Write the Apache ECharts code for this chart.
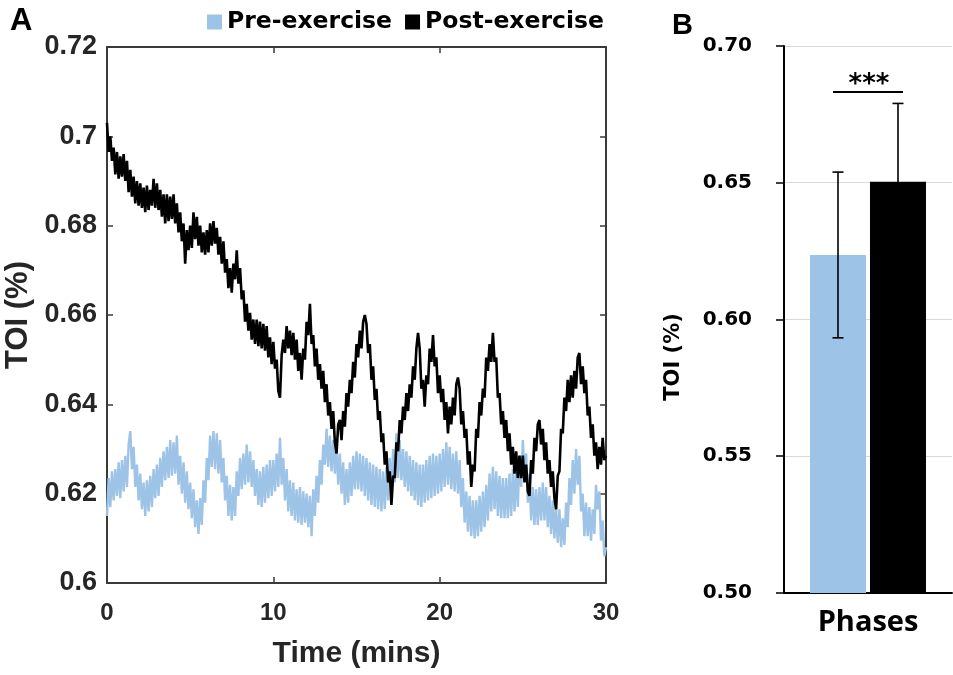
<!DOCTYPE html>
<html>
<head>
<meta charset="utf-8">
<title>TOI pre/post exercise</title>
<script src="https://cdn.jsdelivr.net/npm/echarts@6/dist/echarts.min.js"></script>
<style>
  html, body { margin: 0; padding: 0; background: #fff; }
  #chart { width: 953px; height: 675px; }
</style>
</head>
<body>
<div id="chart"></div>
<script>
// ---- Panel A: TOI traces, one sample every 0.1 min over 30 min ----
const sampleStepMin = 0.1;
const timeTicks = [0, 10, 20, 30];
const toiTicks = [0.6, 0.62, 0.64, 0.66, 0.68, 0.7, 0.72];

const preExercise = [
  0.6150, 0.6235, 0.6170, 0.6250, 0.6185, 0.6255, 0.6195, 0.6270, 0.6190, 0.6275,
  0.6205, 0.6285, 0.6215, 0.6310, 0.6340, 0.6255, 0.6305, 0.6215, 0.6265, 0.6185,
  0.6245, 0.6165, 0.6225, 0.6150, 0.6230, 0.6160, 0.6240, 0.6170, 0.6255, 0.6190,
  0.6265, 0.6195, 0.6280, 0.6215, 0.6295, 0.6230, 0.6305, 0.6235, 0.6320, 0.6240,
  0.6315, 0.6245, 0.6330, 0.6220, 0.6285, 0.6200, 0.6270, 0.6180, 0.6250, 0.6165,
  0.6225, 0.6145, 0.6210, 0.6125, 0.6185, 0.6110, 0.6190, 0.6130, 0.6230, 0.6180,
  0.6280, 0.6230, 0.6330, 0.6260, 0.6340, 0.6255, 0.6335, 0.6245, 0.6320, 0.6225,
  0.6280, 0.6185, 0.6240, 0.6150, 0.6220, 0.6140, 0.6215, 0.6150, 0.6250, 0.6195,
  0.6280, 0.6210, 0.6290, 0.6220, 0.6310, 0.6225, 0.6295, 0.6215, 0.6275, 0.6195,
  0.6255, 0.6175, 0.6250, 0.6170, 0.6260, 0.6180, 0.6265, 0.6190, 0.6275, 0.6195,
  0.6275, 0.6205, 0.6290, 0.6215, 0.6325, 0.6220, 0.6280, 0.6185, 0.6255, 0.6160,
  0.6230, 0.6150, 0.6225, 0.6140, 0.6210, 0.6135, 0.6215, 0.6130, 0.6205, 0.6135,
  0.6200, 0.6125, 0.6195, 0.6105, 0.6210, 0.6150, 0.6240, 0.6180, 0.6275, 0.6220,
  0.6310, 0.6265, 0.6345, 0.6260, 0.6330, 0.6250, 0.6320, 0.6245, 0.6310, 0.6220,
  0.6290, 0.6200, 0.6270, 0.6175, 0.6255, 0.6180, 0.6270, 0.6195, 0.6285, 0.6210,
  0.6295, 0.6210, 0.6290, 0.6205, 0.6285, 0.6195, 0.6280, 0.6185, 0.6270, 0.6175,
  0.6265, 0.6170, 0.6260, 0.6165, 0.6255, 0.6160, 0.6250, 0.6165, 0.6260, 0.6185,
  0.6280, 0.6205, 0.6300, 0.6225, 0.6335, 0.6235, 0.6320, 0.6230, 0.6300, 0.6215,
  0.6295, 0.6205, 0.6285, 0.6195, 0.6275, 0.6185, 0.6270, 0.6175, 0.6265, 0.6170,
  0.6265, 0.6180, 0.6275, 0.6185, 0.6285, 0.6190, 0.6290, 0.6195, 0.6285, 0.6200,
  0.6290, 0.6205, 0.6300, 0.6215, 0.6315, 0.6220, 0.6305, 0.6210, 0.6290, 0.6205,
  0.6295, 0.6200, 0.6275, 0.6170, 0.6235, 0.6135, 0.6205, 0.6115, 0.6195, 0.6105,
  0.6185, 0.6100, 0.6185, 0.6105, 0.6195, 0.6115, 0.6205, 0.6125, 0.6220, 0.6140,
  0.6245, 0.6160, 0.6260, 0.6165, 0.6250, 0.6150, 0.6240, 0.6145, 0.6235, 0.6145,
  0.6235, 0.6145, 0.6245, 0.6150, 0.6255, 0.6160, 0.6255, 0.6170, 0.6285, 0.6215,
  0.6320, 0.6240, 0.6290, 0.6180, 0.6245, 0.6140, 0.6215, 0.6130, 0.6210, 0.6130,
  0.6215, 0.6140, 0.6225, 0.6140, 0.6215, 0.6125, 0.6195, 0.6110, 0.6185, 0.6100,
  0.6170, 0.6090, 0.6165, 0.6080, 0.6145, 0.6085, 0.6180, 0.6125, 0.6235, 0.6175,
  0.6275, 0.6200, 0.6300, 0.6220, 0.6285, 0.6160, 0.6200, 0.6105, 0.6180, 0.6105,
  0.6170, 0.6095, 0.6165, 0.6110, 0.6220, 0.6165, 0.6205, 0.6095, 0.6140, 0.6060,
  0.6080
];

const postExercise = [
  0.7030, 0.6965, 0.7000, 0.6945, 0.6975, 0.6915, 0.6965, 0.6905, 0.6955, 0.6910,
  0.6960, 0.6900, 0.6945, 0.6875, 0.6925, 0.6865, 0.6910, 0.6850, 0.6900, 0.6845,
  0.6895, 0.6840, 0.6885, 0.6830, 0.6890, 0.6835, 0.6880, 0.6845, 0.6905, 0.6840,
  0.6895, 0.6835, 0.6880, 0.6820, 0.6870, 0.6805, 0.6870, 0.6810, 0.6865, 0.6815,
  0.6870, 0.6805, 0.6850, 0.6785, 0.6830, 0.6765, 0.6805, 0.6715, 0.6790, 0.6745,
  0.6800, 0.6750, 0.6830, 0.6770, 0.6820, 0.6755, 0.6800, 0.6740, 0.6785, 0.6735,
  0.6790, 0.6740, 0.6805, 0.6755, 0.6810, 0.6760, 0.6795, 0.6735, 0.6775, 0.6715,
  0.6765, 0.6695, 0.6725, 0.6660, 0.6705, 0.6650, 0.6715, 0.6680, 0.6745, 0.6670,
  0.6705, 0.6635, 0.6655, 0.6585, 0.6625, 0.6565, 0.6605, 0.6545, 0.6590, 0.6535,
  0.6590, 0.6530, 0.6585, 0.6525, 0.6580, 0.6520, 0.6575, 0.6505, 0.6550, 0.6490,
  0.6540, 0.6480, 0.6500, 0.6430, 0.6415, 0.6510, 0.6545, 0.6515, 0.6575, 0.6525,
  0.6565, 0.6510, 0.6560, 0.6500, 0.6545, 0.6475, 0.6515, 0.6455, 0.6525, 0.6500,
  0.6585, 0.6555, 0.6625, 0.6535, 0.6555, 0.6485, 0.6525, 0.6455, 0.6490, 0.6435,
  0.6475, 0.6405, 0.6445, 0.6375, 0.6405, 0.6345, 0.6385, 0.6315, 0.6290, 0.6355,
  0.6365, 0.6320, 0.6385, 0.6350, 0.6425, 0.6395, 0.6455, 0.6425, 0.6495, 0.6460,
  0.6535, 0.6505, 0.6565, 0.6525, 0.6585, 0.6600, 0.6580, 0.6515, 0.6535, 0.6455,
  0.6485, 0.6410, 0.6435, 0.6365, 0.6385, 0.6315, 0.6335, 0.6265, 0.6295, 0.6225,
  0.6250, 0.6175, 0.6240, 0.6235, 0.6315, 0.6295, 0.6365, 0.6335, 0.6395, 0.6365,
  0.6425, 0.6385, 0.6445, 0.6415, 0.6485, 0.6455, 0.6525, 0.6560, 0.6525, 0.6435,
  0.6455, 0.6395, 0.6465, 0.6445, 0.6525, 0.6495, 0.6555, 0.6485, 0.6505, 0.6425,
  0.6465, 0.6405, 0.6435, 0.6365, 0.6405, 0.6335, 0.6395, 0.6355, 0.6415, 0.6375,
  0.6445, 0.6460, 0.6435, 0.6355, 0.6385, 0.6325, 0.6345, 0.6265, 0.6295, 0.6215,
  0.6265, 0.6250, 0.6345, 0.6325, 0.6405, 0.6375, 0.6435, 0.6415, 0.6505, 0.6475,
  0.6535, 0.6495, 0.6560, 0.6495, 0.6505, 0.6415, 0.6425, 0.6355, 0.6385, 0.6325,
  0.6365, 0.6295, 0.6335, 0.6265, 0.6305, 0.6245, 0.6295, 0.6235, 0.6285, 0.6235,
  0.6285, 0.6225, 0.6265, 0.6205, 0.6195, 0.6275, 0.6245, 0.6325, 0.6295, 0.6355,
  0.6365, 0.6310, 0.6345, 0.6275, 0.6315, 0.6245, 0.6275, 0.6215, 0.6250, 0.6190,
  0.6165, 0.6240, 0.6250, 0.6345, 0.6335, 0.6415, 0.6385, 0.6455, 0.6405, 0.6465,
  0.6415, 0.6475, 0.6435, 0.6505, 0.6515, 0.6445, 0.6485, 0.6425, 0.6455, 0.6375,
  0.6395, 0.6325, 0.6355, 0.6285, 0.6315, 0.6255, 0.6305, 0.6265, 0.6325, 0.6275,
  0.6285
];

// ---- Panel B: mean TOI per phase with error bars ----
const phaseCategories = ['Phases'];
const phaseNames = ['Pre-exercise', 'Post-exercise'];
const phaseMeans = [0.6236, 0.6504];
const phaseErrors = [0.0303, 0.0286];
const barTicks = [0.5, 0.55, 0.6, 0.65, 0.7];
const significanceLabel = '***';
const significanceLevel = 0.6832;

// ---- styling ----
const BLUE = '#9DC3E6';
const BLACK = '#000000';
const FRAME = '#3a3a3a';
const LABEL_A = '#262626';
const BAR_WIDTH = 56;
const BAR_GAP_PX = 4;
const barOffsets = [-(BAR_WIDTH + BAR_GAP_PX) / 2, (BAR_WIDTH + BAR_GAP_PX) / 2];

const toPairs = arr => arr.map((v, i) => [+(i * sampleStepMin).toFixed(1), v]);

const fontA = 'Liberation Sans, Arial, sans-serif';
const fontB = 'DejaVu Sans, Liberation Sans, sans-serif';

const frameAxisA = (extra) => Object.assign({
  gridIndex: 0,
  axisLine: { show: true, onZero: false, lineStyle: { color: FRAME, width: 2 } },
  axisTick: { show: true, inside: true, length: 6, lineStyle: { color: FRAME, width: 1.5 } },
  splitLine: { show: false }
}, extra);

const chart = echarts.init(document.getElementById('chart'), null, { renderer: 'canvas' });

chart.setOption({
  animation: false,
  backgroundColor: '#ffffff',
  title: [
    { text: 'A', left: 5, top: 1, textStyle: { fontFamily: fontA, fontWeight: 'bold', fontSize: 31, color: BLACK } },
    { text: 'B', left: 667, top: 6, textStyle: { fontFamily: fontA, fontWeight: 'bold', fontSize: 29, color: BLACK } }
  ],
  legend: {
    data: phaseNames,
    left: 207,
    top: 10,
    padding: 0,
    icon: 'rect',
    itemWidth: 15,
    itemHeight: 15,
    itemGap: 13,
    selectedMode: false,
    textStyle: { fontFamily: fontB, fontWeight: 'bold', fontSize: 23.5, color: BLACK }
  },
  grid: [
    { left: 107, top: 47, width: 499, height: 536, outerBoundsMode: 'none', containLabel: false },
    { left: 784, top: 46, width: 168, height: 547, outerBoundsMode: 'none', containLabel: false }
  ],
  xAxis: [
    frameAxisA({
      type: 'value', position: 'bottom', min: timeTicks[0], max: timeTicks[timeTicks.length - 1],
      interval: timeTicks[1] - timeTicks[0],
      name: 'Time (mins)', nameLocation: 'middle', nameGap: 56,
      nameTextStyle: { fontFamily: fontA, fontWeight: 'bold', fontSize: 30, color: LABEL_A },
      axisLabel: { margin: 18, fontFamily: fontA, fontWeight: 'bold', fontSize: 24, color: LABEL_A }
    }),
    frameAxisA({
      type: 'value', position: 'top', min: timeTicks[0], max: timeTicks[timeTicks.length - 1],
      interval: timeTicks[1] - timeTicks[0], axisLabel: { show: false }
    }),
    {
      gridIndex: 1, type: 'category', data: phaseCategories,
      axisLine: { show: true, lineStyle: { color: BLACK, width: 2 } },
      axisTick: { show: false },
      axisLabel: { margin: 15, fontFamily: 'Open Sans, sans-serif', fontWeight: 'bold', fontSize: 29, color: BLACK },
      splitLine: { show: false }
    }
  ],
  yAxis: [
    frameAxisA({
      type: 'value', position: 'left', min: toiTicks[0], max: toiTicks[toiTicks.length - 1],
      interval: 0.02,
      name: 'TOI (%)', nameLocation: 'middle', nameGap: 72,
      nameTextStyle: { fontFamily: fontA, fontWeight: 'bold', fontSize: 31, color: LABEL_A },
      axisLabel: {
        margin: 10, fontFamily: fontA, fontWeight: 'bold', fontSize: 27, color: LABEL_A,
        formatter: v => String(+v.toFixed(2))
      }
    }),
    frameAxisA({
      type: 'value', position: 'right', min: toiTicks[0], max: toiTicks[toiTicks.length - 1],
      interval: 0.02, axisLabel: { show: false }
    }),
    {
      gridIndex: 1, type: 'value', min: barTicks[0], max: barTicks[barTicks.length - 1], interval: 0.05,
      name: 'TOI (%)', nameLocation: 'middle', nameGap: 100,
      nameTextStyle: { fontFamily: fontB, fontWeight: 'bold', fontSize: 21, color: BLACK, padding: [0, 75, 0, 0] },
      axisLine: { show: true, lineStyle: { color: BLACK, width: 2 } },
      axisTick: { show: true, inside: false, length: 8, lineStyle: { color: BLACK, width: 1.5 } },
      axisLabel: {
        margin: 32, fontFamily: fontB, fontWeight: 'bold', fontSize: 20, color: BLACK,
        formatter: v => v.toFixed(2)
      },
      splitLine: { show: true, lineStyle: { color: '#d9d9d9', width: 1 } }
    }
  ],
  series: [
    {
      name: phaseNames[0], type: 'line', xAxisIndex: 0, yAxisIndex: 0,
      data: toPairs(preExercise), showSymbol: false, symbol: 'none',
      lineStyle: { color: BLUE, width: 2.4 }, itemStyle: { color: BLUE }, z: 2
    },
    {
      name: phaseNames[1], type: 'line', xAxisIndex: 0, yAxisIndex: 0,
      data: toPairs(postExercise), showSymbol: false, symbol: 'none',
      lineStyle: { color: BLACK, width: 2.6 }, itemStyle: { color: BLACK }, z: 3
    },
    {
      name: phaseNames[0], type: 'bar', xAxisIndex: 2, yAxisIndex: 2,
      data: [phaseMeans[0]], barWidth: BAR_WIDTH, barGap: (BAR_GAP_PX / BAR_WIDTH * 100).toFixed(1) + '%',
      itemStyle: { color: BLUE }
    },
    {
      name: phaseNames[1], type: 'bar', xAxisIndex: 2, yAxisIndex: 2,
      data: [phaseMeans[1]], barWidth: BAR_WIDTH,
      itemStyle: { color: BLACK }
    },
    {
      // symmetric error bars centred on each bar
      type: 'custom', xAxisIndex: 2, yAxisIndex: 2, z: 5,
      data: phaseMeans.map((m, i) => [0, m, phaseErrors[i]]),
      renderItem: (params, api) => {
        const i = params.dataIndex;
        const mean = api.value(1), err = api.value(2);
        const x = api.coord([0, mean])[0] + barOffsets[i];
        const yTop = api.coord([0, mean + err])[1];
        const yBot = api.coord([0, mean - err])[1];
        const cap = 5.5;
        const style = { stroke: BLACK, lineWidth: 1.6 };
        return {
          type: 'group',
          children: [
            { type: 'line', shape: { x1: x, y1: yTop, x2: x, y2: yBot }, style },
            { type: 'line', shape: { x1: x - cap, y1: yTop, x2: x + cap, y2: yTop }, style },
            { type: 'line', shape: { x1: x - cap, y1: yBot, x2: x + cap, y2: yBot }, style }
          ]
        };
      }
    },
    {
      // significance bracket between the two phases
      type: 'custom', xAxisIndex: 2, yAxisIndex: 2, z: 5,
      data: [[0, significanceLevel]],
      renderItem: (params, api) => {
        const p = api.coord([0, api.value(1)]);
        const half = 35;
        return {
          type: 'group',
          children: [
            { type: 'line', shape: { x1: p[0] - half, y1: p[1], x2: p[0] + half, y2: p[1] },
              style: { stroke: BLACK, lineWidth: 2 } },
            { type: 'text', x: p[0] + 1, y: p[1] + 6,
              style: { text: significanceLabel, textAlign: 'center', textVerticalAlign: 'bottom',
                       font: 'bold 26px ' + fontB, fill: BLACK } }
          ]
        };
      }
    }
  ]
});
</script>
</body>
</html>
